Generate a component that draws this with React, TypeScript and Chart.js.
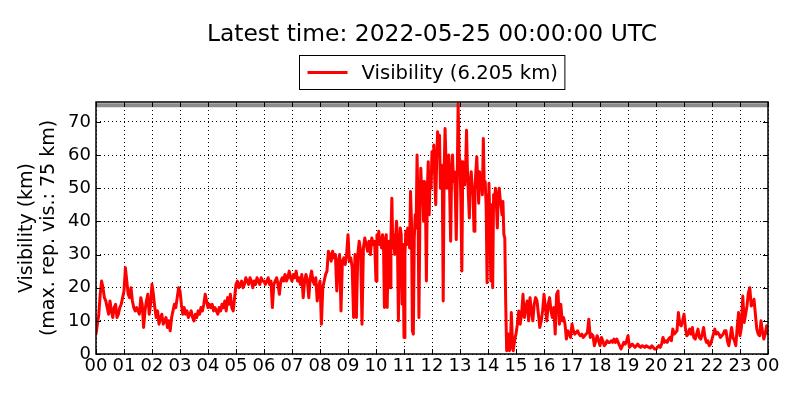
import React, { useEffect, useRef } from "react";
import { Chart, registerables } from "chart.js";

Chart.register(...registerables);

const TITLE = "Latest time: 2022-05-25 00:00:00 UTC";
const SERIES_LABEL = "Visibility (6.205 km)";
const Y_TITLE = ["Visibility (km)", "(max. rep. vis.: 75 km)"];
const MAX_REPORTED = 75;
const Y_MAX = 76;
const X_TICKS = [
  "00", "01", "02", "03", "04", "05", "06", "07", "08", "09", "10", "11", "12",
  "13", "14", "15", "16", "17", "18", "19", "20", "21", "22", "23", "00",
];

// Visibility (km) samples, one row per hour (samples evenly spaced within the hour)
const H00 = [6, 9, 12, 18, 22, 20, 17, 16, 14, 12, 16, 13, 11, 14, 15, 11, 12, 14, 15, 17];
const H01 = [19, 26, 22, 18, 17, 20, 16, 14, 13, 14, 13, 12, 17, 15, 8, 13, 16, 18, 12, 15];
const H02 = [21, 18, 14, 11, 13, 9, 11, 12, 9, 10, 11, 8, 10, 7, 11, 13, 15, 14, 17, 20];
const H03 = [19, 15, 12, 14, 12, 13, 11, 12, 13, 11, 10, 12, 11, 13, 12, 14, 13, 15, 18, 16];
const H04 = [14, 15, 14, 15, 13, 14, 13, 12, 14, 13, 15, 14, 16, 13, 17, 15, 18, 14, 13, 17];
const H05 = [21, 22, 20, 21, 22, 20, 21, 23, 22, 21, 23, 22, 20, 22, 21, 23, 22, 21, 23, 22];
const H06 = [22, 21, 22, 23, 21, 22, 14, 21, 22, 23, 21, 18, 22, 23, 22, 24, 22, 23, 25, 23];
const H07 = [22, 24, 23, 25, 22, 23, 21, 24, 17, 22, 24, 22, 17, 23, 25, 22, 21, 23, 16, 20];
const H08 = [22, 9, 20, 22, 24, 25, 31, 30, 28, 31, 29, 30, 19, 28, 30, 13, 28, 29, 27, 30];
const H09 = [36, 28, 29, 26, 11, 30, 11, 30, 34, 31, 9, 32, 35, 33, 31, 34, 30, 35, 33, 34];
const H10 = [22, 36, 34, 37, 33, 35, 32, 36, 34, 14, 33, 36, 14, 30, 34, 20, 35, 47, 32, 36,
  30, 35, 40, 33, 10, 30, 38, 36, 15, 33];
const H11 = [5, 30, 37, 33, 38, 36, 32, 49, 40, 7, 6, 35, 42, 38, 60, 45, 11, 40, 56, 48,
  52, 40, 52, 45, 22, 50, 58, 42, 55, 50];
const H12 = [61, 55, 63, 52, 45, 58, 67, 60, 66, 50, 57, 54, 16, 55, 68, 58, 50, 57, 60, 48,
  34, 55, 60, 52, 55, 48, 34.5, 52, 75.5, 60];
const H13 = [58, 45, 25, 58, 52, 51, 56, 67.5, 55, 48, 41, 52, 55, 50, 48, 37, 50, 55, 59.5, 52,
  45.5, 55, 50, 52, 48, 65, 50, 52, 45, 21.5];
const H14 = [48, 51.5, 40, 22, 45, 20, 48, 46, 50, 45, 38, 48, 50, 47, 45, 42, 46, 36, 35, 15,
  1, 3, 6, 1, 2, 12.5, 5, 1, 3, 5];
const H15 = [6, 9, 13, 9, 12, 18, 11, 14, 16, 10, 17, 13, 10, 15, 17, 16, 12, 8, 10, 13];
const H16 = [18, 14, 10, 15, 17, 13, 11, 14, 6, 18, 19, 9, 15, 10, 11, 9, 4.5, 7, 6, 5];
const H17 = [9, 7, 6, 6.5, 7, 6, 5.5, 6, 5, 5.5, 6, 6.5, 10.5, 5, 6, 5.5, 2.5, 4, 5.5, 4];
const H18 = [2.5, 5, 4, 2.5, 3, 4, 3.5, 3.5, 4, 3.5, 4.5, 3.5, 4.5, 3.5, 2.5, 1.5, 2.5, 3.5, 3, 4];
const H19 = [5.5, 2, 2.5, 3, 2.5, 2, 2.5, 3, 2.3, 2, 2.5, 2.3, 2, 2.5, 2.2, 2, 1.8, 2.5, 2, 1.5];
const H20 = [1.5, 2, 2.5, 2, 3, 5, 3.5, 4, 3.5, 4.5, 5, 4, 7.5, 6, 6.5, 7, 12.5, 9, 8.5, 10];
const H21 = [12, 8, 5.5, 6, 7.5, 6, 8, 5, 4.5, 6, 7.5, 5, 4.5, 6, 8, 5, 3.5, 4, 2.5, 3];
const H22 = [4.5, 6, 7.5, 6, 6.5, 6, 5, 5.5, 6, 7, 7, 4, 2.5, 5, 8, 5, 4, 2.5, 8, 12.5];
const H23 = [5.5, 8, 17.5, 9.5, 12, 14.5, 18.5, 20, 14.5, 15, 16.5, 12, 7.5, 6, 5.5, 10, 7, 4.5, 6, 8.5];
const LATEST = 6.205;

const HOURS = [H00, H01, H02, H03, H04, H05, H06, H07, H08, H09, H10, H11,
  H12, H13, H14, H15, H16, H17, H18, H19, H20, H21, H22, H23];

const POINTS = [
  ...HOURS.flatMap((row, h) => row.map((v, j) => ({ x: h + j / row.length, y: v }))),
  { x: 24, y: LATEST },
];

const FONT = "DejaVu Sans";

const frame = {
  id: "frame",
  afterDatasetsDraw(chart: any) {
    const { ctx, chartArea: a, scales } = chart;
    ctx.save();
    ctx.strokeStyle = "#000";
    ctx.lineWidth = 1;
    const tl = 5;
    scales.x.ticks.forEach((t: any) => {
      const px = Math.round(scales.x.getPixelForValue(t.value)) + 0.5;
      ctx.beginPath();
      ctx.moveTo(px, a.bottom);
      ctx.lineTo(px, a.bottom - tl);
      ctx.moveTo(px, a.top);
      ctx.lineTo(px, a.top + tl);
      ctx.stroke();
    });
    scales.y.ticks.forEach((t: any) => {
      const py = Math.round(scales.y.getPixelForValue(t.value)) + 0.5;
      ctx.beginPath();
      ctx.moveTo(a.left, py);
      ctx.lineTo(a.left + tl, py);
      ctx.moveTo(a.right, py);
      ctx.lineTo(a.right - tl, py);
      ctx.stroke();
    });
    ctx.lineWidth = 1.5;
    ctx.strokeRect(a.left, a.top, a.right - a.left, a.bottom - a.top);
    ctx.restore();
  },
  afterDraw(chart: any) {
    const { ctx, chartArea: a } = chart;
    const cx = (a.left + a.right) / 2;
    ctx.save();
    ctx.fillStyle = "#000";
    ctx.textAlign = "center";
    ctx.textBaseline = "middle";
    ctx.font = `23.4px "${FONT}"`;
    ctx.fillText(TITLE, cx, 35);

    const label = chart.data.datasets[0].label;
    ctx.font = `19.6px "${FONT}"`;
    const tw = ctx.measureText(label).width;
    const padL = 8, lineW = 40, gap = 14, padR = 7;
    const bw = padL + lineW + gap + tw + padR;
    const bx = Math.round(cx - bw / 2) + 0.5;
    const by = 55.5, bh = 34;
    ctx.fillStyle = "#fff";
    ctx.fillRect(bx, by, bw, bh);
    ctx.strokeStyle = "#000";
    ctx.lineWidth = 1;
    ctx.strokeRect(bx, by, bw, bh);
    ctx.strokeStyle = chart.data.datasets[0].borderColor;
    ctx.lineWidth = 3;
    ctx.beginPath();
    ctx.moveTo(bx + padL, by + bh / 2);
    ctx.lineTo(bx + padL + lineW, by + bh / 2);
    ctx.stroke();
    ctx.fillStyle = "#000";
    ctx.textAlign = "left";
    ctx.fillText(label, bx + padL + lineW + gap, by + bh / 2 + 1);
    ctx.restore();
  },
};

export default function App() {
  const ref = useRef<HTMLCanvasElement | null>(null);

  useEffect(() => {
    document.body.style.margin = "0";
    const canvas = ref.current;
    if (!canvas) return;
    const chart = new Chart(canvas, {
      type: "line",
      data: {
        datasets: [
          {
            label: SERIES_LABEL,
            data: POINTS,
            borderColor: "#ff0000",
            borderWidth: 3,
            borderJoinStyle: "round",
            borderCapStyle: "round",
            pointRadius: 0,
            tension: 0,
            order: 0,
          },
          {
            label: "max reported",
            data: [
              { x: 0, y: MAX_REPORTED },
              { x: 24, y: MAX_REPORTED },
            ],
            borderColor: "rgba(120,120,120,0.85)",
            borderWidth: 4,
            pointRadius: 0,
            order: 1,
          },
        ],
      },
      options: {
        animation: false,
        responsive: false,
        events: [],
        layout: { padding: { top: 102, right: 32, left: 0, bottom: 0 } },
        plugins: {
          legend: { display: false },
          title: { display: false },
          tooltip: { enabled: false },
        },
        scales: {
          x: {
            type: "linear",
            min: 0,
            max: 24,
            afterFit: (s: any) => {
              s.height = 46;
            },
            ticks: {
              stepSize: 1,
              autoSkip: false,
              maxRotation: 0,
              padding: 2,
              color: "#000",
              font: { family: FONT, size: 18 },
              callback: (v: any) => X_TICKS[Math.round(Number(v))],
            },
            grid: { color: "#000", lineWidth: 1, drawTicks: false },
            border: { display: false, dash: [1, 3] },
          },
          y: {
            type: "linear",
            min: 0,
            max: Y_MAX,
            afterBuildTicks: (s: any) => {
              s.ticks = s.ticks.filter((t: any) => t.value % 10 === 0);
            },
            afterFit: (s: any) => {
              s.width = 96;
            },
            ticks: {
              stepSize: 10,
              padding: 5,
              color: "#000",
              font: { family: FONT, size: 18 },
            },
            grid: { color: "#000", lineWidth: 1, drawTicks: false },
            border: { display: false, dash: [1, 3] },
            title: {
              display: true,
              text: Y_TITLE,
              color: "#000",
              font: { family: FONT, size: 19, lineHeight: 1.16 },
              padding: { top: 16, bottom: 0 },
            },
          },
        },
      },
      plugins: [frame],
    });
    return () => chart.destroy();
  }, []);

  return (
    <div style={{ width: 800, height: 400, background: "#fff" }}>
      <canvas ref={ref} width={800} height={400} />
    </div>
  );
}
